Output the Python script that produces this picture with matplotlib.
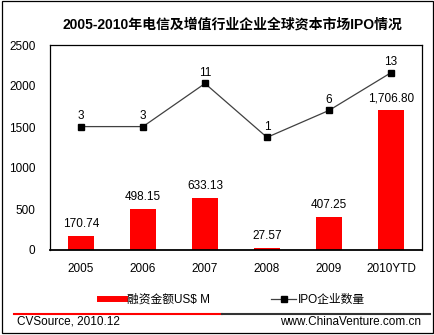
import matplotlib
matplotlib.use("Agg")
import matplotlib.pyplot as plt
from matplotlib.lines import Line2D
from matplotlib.patches import Rectangle

plt.rcParams['font.family'] = ['Liberation Sans', 'Noto Sans CJK SC', 'DejaVu Sans']

categories = ["2005", "2006", "2007", "2008", "2009", "2010YTD"]
amounts = [170.74, 498.15, 633.13, 27.57, 407.25, 1706.80]
amount_labels = ["170.74", "498.15", "633.13", "27.57", "407.25", "1,706.80"]
ipo_counts = [3, 3, 11, 1, 6, 13]
yticks = [0, 500, 1000, 1500, 2000, 2500]

title = "2005-2010年电信及增值行业企业全球资本市场IPO情况"
bar_name = "融资金额US$ M"
line_name = "IPO企业数量"
src_left = "CVSource, 2010.12"
src_right = "www.ChinaVenture.com.cn"

W, H = 435, 335
fig = plt.figure(figsize=(W / 100, H / 100), dpi=100)

def fx(px):
    return px / W

def fy(py):
    return 1 - py / H

ax = fig.add_axes([fx(50), fy(250), fx(422) - fx(50), fy(45) - fy(250)])
x = list(range(len(categories)))
bars = ax.bar(x, amounts, width=0.435, color="#FF0000", zorder=2)
ax.set_xlim(-0.5, len(categories) - 0.5)
ax.set_ylim(0, 2500)
ax.set_yticks(yticks)
ax.set_yticklabels([str(v) for v in yticks], fontsize=8.5)
ax.set_xticks(x)
ax.set_xticklabels(categories, fontsize=8.5)
ax.tick_params(axis='y', length=0, pad=10.5)
ax.tick_params(axis='x', length=0, pad=9.5)
for s in ax.spines.values():
    s.set_color("black")
    s.set_linewidth(0.9)
ax.spines['bottom'].set_linewidth(1.3)

for xi, v, lab in zip(x, amounts, amount_labels):
    ax.annotate(lab, (xi, v), xytext=(0, 6.5), textcoords='offset points',
                ha='center', va='baseline', fontsize=8.5)

ax2 = ax.twinx()
ax2.set_ylim(-19.9, 18.14)
line, = ax2.plot(x, ipo_counts, color="#404040", lw=0.9, marker='s',
                 markersize=4.5, markerfacecolor='black', markeredgecolor='black', zorder=3)
ax2.set_yticks([])
for s in ax2.spines.values():
    s.set_visible(False)
for xi, c in zip(x, ipo_counts):
    ax2.annotate(str(c), (xi, c), xytext=(0, 5.3), textcoords='offset points',
                 ha='center', va='baseline', fontsize=8.5)

fig.text(fx(232), fy(25), title, ha='center', va='center', fontsize=10, fontweight='bold')

h1 = Line2D([], [], color="#FF0000", lw=4.3)
h2 = Line2D([], [], color="#404040", lw=0.9, marker='s', markersize=4.5,
            markerfacecolor='black', markeredgecolor='black')
fig.legend([h1, h2], [bar_name, line_name], ncol=2, frameon=False, loc='center',
           bbox_to_anchor=(fx(232.5), fy(300)), fontsize=8.5, handlelength=2.1,
           handletextpad=0.15, columnspacing=5.2, borderpad=0.1)

fig.add_artist(Line2D([fx(14), fx(222)], [fy(314), fy(314)], color="#FF0000", lw=1.5))
fig.add_artist(Line2D([fx(222), fx(430)], [fy(314), fy(314)], color="#333333", lw=1.5))

fig.text(fx(17), fy(322), src_left, ha='left', va='center', fontsize=8.5)
fig.text(fx(421), fy(322), src_right, ha='right', va='center', fontsize=8.5)

fig.add_artist(Rectangle((fx(2), fy(333)), fx(433) - fx(2), fy(1) - fy(333),
                         fill=False, edgecolor='black', lw=0.9, transform=fig.transFigure))

fig.savefig("out.png", dpi=100)
